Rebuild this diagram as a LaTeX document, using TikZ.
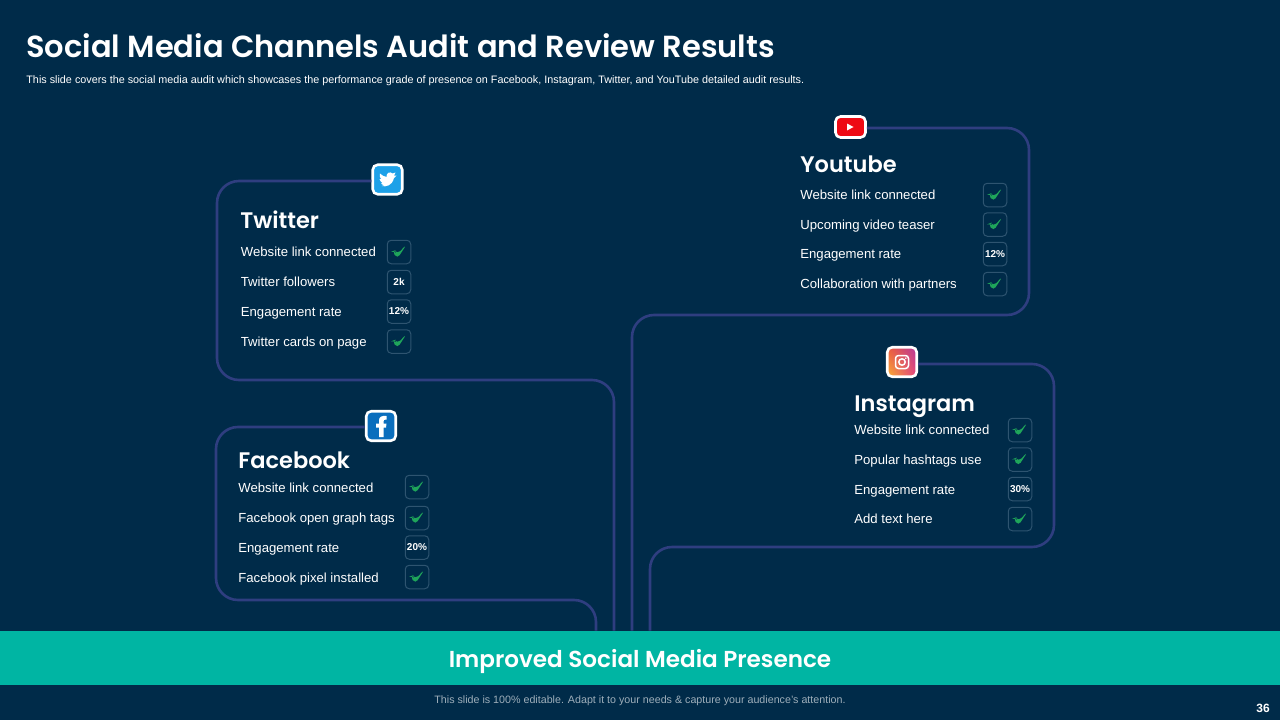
\documentclass[tikz,border=0pt]{standalone}
\usepackage{fontspec}
\usetikzlibrary{shadings}
\setmainfont{Liberation Sans}
\newfontfamily\headfont{Poppins}[BoldFont={Poppins SemiBold}]
\definecolor{slidebg}{HTML}{002B49}
\definecolor{linkblue}{HTML}{2F3E80}
\definecolor{barteal}{HTML}{00B5A3}
\definecolor{boxedge}{HTML}{2E5470}
\definecolor{tickgreen}{HTML}{1FA55A}
\definecolor{twblue}{HTML}{1DA1E8}
\definecolor{fbblue}{HTML}{0A6EBD}
\definecolor{ytred}{HTML}{EE0A14}
\definecolor{igyellow}{HTML}{F9B233}
\definecolor{igorange}{HTML}{EF5A3A}
\definecolor{igpurple}{HTML}{B5389E}
\definecolor{igpink}{HTML}{E8407A}
\tikzset{
    linkline/.style={draw=linkblue,line width=2.6pt,rounded corners=22pt},
    item/.style={anchor=west,text=white,font=\fontsize{13.15}{16}\selectfont,inner sep=0pt,text height=9.5pt,text depth=0pt},
    heading/.style={anchor=west,text=white,font=\headfont\bfseries\fontsize{22.5}{28}\selectfont,inner sep=0pt,text height=17pt,text depth=0pt},
    badge/.style={draw=boxedge,line width=1pt,rounded corners=4pt,minimum size=23.5pt,inner sep=0pt,text=white,font=\bfseries\fontsize{10}{12}\selectfont},
    tickbox/.style={badge,path picture={
        \fill[tickgreen] ([shift={(-7,-0.5)}]path picture bounding box.center)
            -- ([shift={(-4.5,-1.5)}]path picture bounding box.center)
            -- ([shift={(-1.5,2)}]path picture bounding box.center)
            -- ([shift={(7.5,-7.5)}]path picture bounding box.center)
            -- ([shift={(-1.5,6.5)}]path picture bounding box.center) -- cycle;}},
    iconbox/.style={draw=white,line width=2.6pt,rounded corners=5pt,minimum size=29.5pt,inner sep=0pt}
}
\begin{document}
\begin{tikzpicture}[x=1pt,y=-1pt,thick]
\useasboundingbox[fill=slidebg] (0,0) rectangle (1280,720);

% Title
\node[anchor=west,text=white,inner sep=0pt,text height=23pt,text depth=0pt,font=\headfont\bfseries\fontsize{30.5}{38}\selectfont] (title) at (26,46) {Social Media Channels Audit and Review Results};
\node[anchor=west,text=white,inner sep=0pt,font=\fontsize{10.8}{12}\selectfont] (subtitle) at (26,80.5) {This slide covers the social media audit which showcases the performance grade of presence on Facebook, Instagram, Twitter, and YouTube detailed audit results.};

% Bottom bar
\node[fill=barteal,minimum width=1280pt,minimum height=54pt,inner sep=0pt,text=white,text height=18pt,text depth=0pt,font=\headfont\bfseries\fontsize{23.1}{28}\selectfont] (bar) at (640,658) {Improved Social Media Presence};
\node[text=white!62!slidebg,inner sep=0pt,font=\fontsize{10.7}{12}\selectfont] (footer) at (640,700.5) {This slide is 100\% editable. Adapt it to your needs \& capture your audience's attention.};
\node[text=white,inner sep=0pt,font=\bfseries\fontsize{12}{13}\selectfont] (pageno) at (1263,708) {36};

% Icons
\node[iconbox,fill=twblue] (twitter) at (387.5,179.5) {};
\node[iconbox,fill=fbblue] (facebook) at (381,426) {};
\node[iconbox,fill=ytred,minimum width=30pt,minimum height=21pt] (youtube) at (850.5,127) {};
\node[iconbox,shading=bilinear interpolation,lower left=igyellow,upper left=igorange,upper right=igpurple,lower right=igpink] (instagram) at (902,362) {};

% Icon glyphs
\fill[white] (381.5,186) .. controls (386,187) and (392,186) .. (394,178) -- (396.5,175.5) -- (394,175.5) -- (395.5,172.5) -- (392.5,173.5) .. controls (390,171) and (386,173) .. (386.5,177) .. controls (384,177) and (382,175) .. (380,173.5) .. controls (379.5,176) and (380,178) .. (381,179) -- (379.5,179) .. controls (380,181) and (381,182) .. (382.5,183) -- (381,183.5) .. controls (381.5,184.5) and (383,185) .. (384.5,185) .. controls (383.5,186) and (382.5,186) .. (381.5,186) -- cycle;
\fill[white] (379,437) -- (379,427.5) -- (376,427.5) -- (376,423.5) -- (379,423.5) -- (379,420.5) .. controls (379,416.5) and (382,415.5) .. (386.5,416) -- (386.5,419.5) .. controls (384,419.5) and (383.5,420) .. (383.5,421.5) -- (383.5,423.5) -- (386.5,423.5) -- (386,427.5) -- (383.5,427.5) -- (383.5,437) -- cycle;
\fill[white] (847,123.5) -- (853.5,127) -- (847,130.5) -- cycle;
\draw[white,line width=1.5pt,rounded corners=3pt] (895.5,355.5) rectangle (908.5,368.5);
\draw[white,line width=1.5pt] (902,362) circle (3.2pt);
\fill[white] (905.8,358.2) circle (0.9pt);

% Link lines
\coordinate (twa) at (217,181);
\coordinate (twb) at (217,380);
\coordinate (twc) at (614,380);
\coordinate (fba) at (216,427);
\coordinate (fbb) at (216,600);
\coordinate (fbc) at (596,600);
\coordinate (yta) at (1029,128);
\coordinate (ytb) at (1029,315);
\coordinate (ytc) at (632,315);
\coordinate (iga) at (1054,364);
\coordinate (igb) at (1054,547);
\coordinate (igc) at (650,547);
\draw[linkline] (twitter.west |- twa) -- (twa) -- (twb) -- (twc) -- (twc |- bar.north);
\draw[linkline] (facebook.west |- fba) -- (fba) -- (fbb) -- (fbc) -- (fbc |- bar.north);
\draw[linkline] (youtube.east |- yta) -- (yta) -- (ytb) -- (ytc) -- (ytc |- bar.north);
\draw[linkline] (instagram.east |- iga) -- (iga) -- (igb) -- (igc) -- (igc |- bar.north);

% Twitter
\node[heading] (twhead) at (240,219.5) {Twitter};
\node[item] (tw1) at (240.5,251.5) {Website link connected};
\node[item] (tw2) at (240.5,281.5) {Twitter followers};
\node[item] (tw3) at (240.5,311.5) {Engagement rate};
\node[item] (tw4) at (240.5,341.5) {Twitter cards on page};
\node[tickbox] (twb1) at (399,252) {};
\node[badge] (twb2) at (399,282) {2k};
\node[badge] (twb3) at (399,311.5) {12\%};
\node[tickbox] (twb4) at (399,341.5) {};

% Facebook
\node[heading] (fbhead) at (238,459.5) {Facebook};
\node[item] (fb1) at (238,487.5) {Website link connected};
\node[item] (fb2) at (238,517.5) {Facebook open graph tags};
\node[item] (fb3) at (238,547.5) {Engagement rate};
\node[item] (fb4) at (238,577.5) {Facebook pixel installed};
\node[tickbox] (fbb1) at (417,487) {};
\node[tickbox] (fbb2) at (417,518) {};
\node[badge] (fbb3) at (417,547.5) {20\%};
\node[tickbox] (fbb4) at (417,577) {};

% Youtube
\node[heading] (ythead) at (800,163.5) {Youtube};
\node[item] (yt1) at (800,194.5) {Website link connected};
\node[item] (yt2) at (800,224.5) {Upcoming video teaser};
\node[item] (yt3) at (800,253.5) {Engagement rate};
\node[item] (yt4) at (800,283.5) {Collaboration with partners};
\node[tickbox] (ytb1) at (995,195) {};
\node[tickbox] (ytb2) at (995,224.5) {};
\node[badge] (ytb3) at (995,254) {12\%};
\node[tickbox] (ytb4) at (995,284) {};

% Instagram
\node[heading] (ighead) at (854,403) {Instagram};
\node[item] (ig1) at (854,429.5) {Website link connected};
\node[item] (ig2) at (854,459.5) {Popular hashtags use};
\node[item] (ig3) at (854,489.5) {Engagement rate};
\node[item] (ig4) at (854,518.5) {Add text here};
\node[tickbox] (igb1) at (1020,430) {};
\node[tickbox] (igb2) at (1020,459.5) {};
\node[badge] (igb3) at (1020,489) {30\%};
\node[tickbox] (igb4) at (1020,519) {};

\end{tikzpicture}
\end{document}
